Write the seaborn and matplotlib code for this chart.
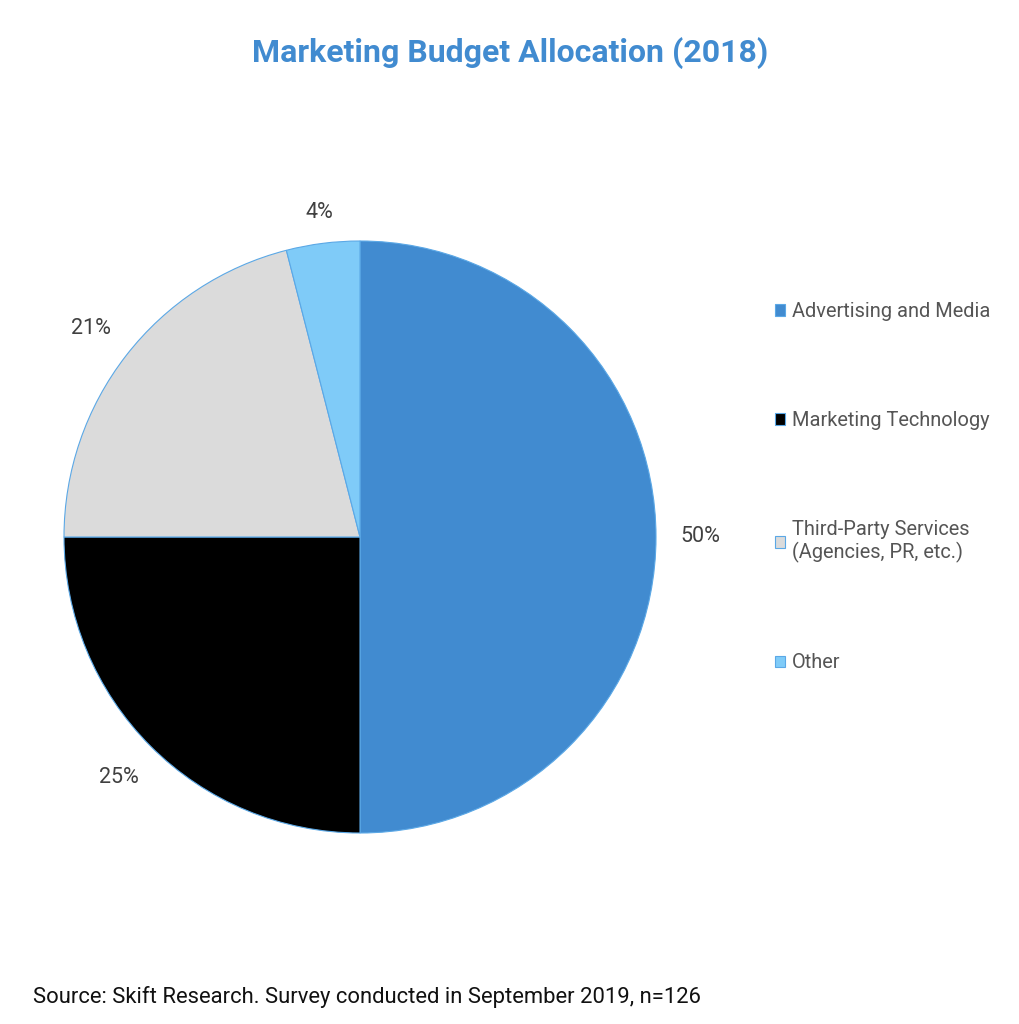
import matplotlib
matplotlib.use("Agg")
import matplotlib.pyplot as plt
import seaborn as sns

categories = ["Advertising and Media", "Marketing Technology",
              "Third-Party Services\n(Agencies, PR, etc.)", "Other"]
shares = [50, 25, 21, 4]
pct_labels = ["50%", "25%", "21%", "4%"]
colors = ["#418BD0", "#000000", "#DBDBDB", "#7FCBF8"]

title = "Marketing Budget Allocation (2018)"
source = "Source: Skift Research. Survey conducted in September 2019, n=126"

sns.set_theme(style="white")
plt.rcParams["font.family"] = ["Roboto", "DejaVu Sans"]

fig = plt.figure(figsize=(10.19, 10.24), dpi=100)
W, H = 1019, 1024
cx, cy, r = 360, 537, 296
ax = fig.add_axes([(cx - r) / W, (H - cy - r) / H, 2 * r / W, 2 * r / H])

wedges, texts = ax.pie(
    shares,
    labels=pct_labels,
    colors=colors,
    startangle=90,
    counterclock=False,
    radius=1,
    labeldistance=1.15,
    wedgeprops=dict(edgecolor="#5BA8E6", linewidth=0.8),
    textprops=dict(fontsize=15.5, color="#404040"),
)
for t in texts:
    t.set_horizontalalignment("center")
    t.set_verticalalignment("center")
# the small slice label sits a little closer to the pie
texts[3].set_position((texts[3].get_position()[0] * 0.96,
                       texts[3].get_position()[1] * 0.96))
ax.set_xlim(-1, 1)
ax.set_ylim(-1, 1)
ax.set_aspect("equal")
ax.axis("off")

leg = fig.legend(
    wedges, categories,
    loc="upper left",
    bbox_to_anchor=(775 / W, 1 - 302 / H),
    frameon=False,
    fontsize=14.4,
    labelcolor="#555555",
    handlelength=0.5,
    handleheight=0.5,
    handletextpad=0.35,
    labelspacing=4.5,
    borderaxespad=0,
    borderpad=0,
)

fig.text(510 / W, 1 - 53 / H, title, ha="center", va="center",
         fontsize=23, fontweight="bold", color="#418BD0")
fig.text(33 / W, 1 - 997 / H, source, ha="left", va="center",
         fontsize=15.8, color="#111111")

fig.savefig("out.png", dpi=100, facecolor="white")
